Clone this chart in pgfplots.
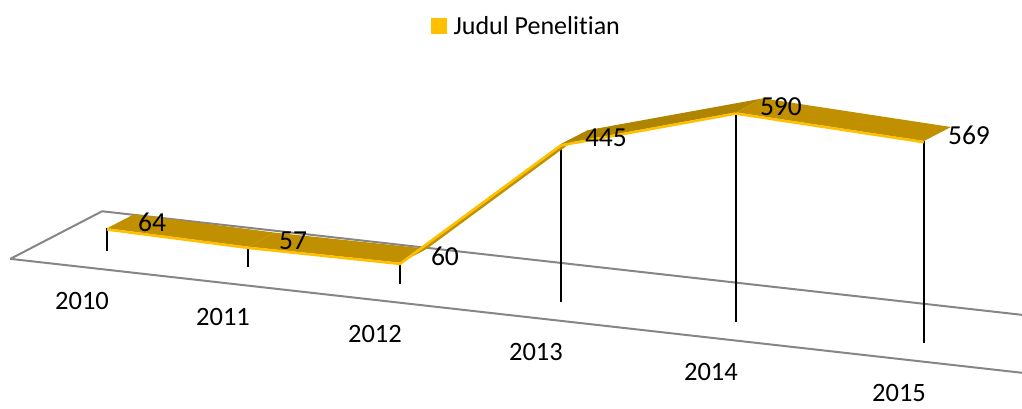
\documentclass[border=0pt]{standalone}
\usepackage{pgfplots}
\pgfplotsset{compat=1.18}
\usepackage{fontspec}
\setmainfont{Carlito}[Ligatures=NoCommon]
\definecolor{gold}{HTML}{C09000}
\definecolor{golddark}{HTML}{AF8400}
\definecolor{yel}{HTML}{FFC000}
\definecolor{floorgray}{HTML}{868686}
\begin{document}
\begin{tikzpicture}
\useasboundingbox (0,0) rectangle (1022pt,408pt);
\begin{axis}[
  x={(163.4pt,-18.4pt)}, y={(27pt,14pt)}, z={(0pt,0.355pt)},
  disabledatascaling,
  anchor=origin, at={(107pt,157pt)},
  hide axis, clip=false,
  xmin=-0.41, xmax=5.8, ymin=-1.1, ymax=2.3, zmin=0, zmax=600,
  font=\fontsize{26.5}{31}\selectfont,
  legend style={draw=none, fill=none, inner sep=0pt,
    at={(axis cs:1.983,0,736.6)}, anchor=west,
    font=\fontsize{26}{31}\selectfont,
    nodes={inner sep=2pt},
    /tikz/every odd column/.append style={column sep=5pt}},
  legend image code/.code={\fill[yel] (0pt,-7.5pt) rectangle (15pt,7.5pt);},
]
% floor
\addplot3[floorgray, line width=2pt, line join=round, forget plot]
  coordinates {(-0.41,-1.1,0) (5.8,-1.1,0) (5.8,2.3,0) (-0.41,2.3,0) (-0.41,-1.1,0)};
% drop lines
\addplot3[black, line width=1.7pt, forget plot] coordinates {(0,0,0) (0,0,64)};
\addplot3[black, line width=1.7pt, forget plot] coordinates {(0.863,0,0) (0.863,0,57)};
\addplot3[black, line width=1.7pt, forget plot] coordinates {(1.793,0,0) (1.793,0,60)};
\addplot3[black, line width=1.7pt, forget plot] coordinates {(2.778,0,0) (2.778,0,445)};
\addplot3[black, line width=1.7pt, forget plot] coordinates {(3.849,0,0) (3.849,0,590)};
\addplot3[black, line width=1.7pt, forget plot] coordinates {(5,0,0) (5,0,569)};
% ribbon top
\addplot3[fill=gold, draw=none, forget plot] coordinates {(0,0,64) (0.863,0,57) (0.863,1,57) (0,1,64)};
\addplot3[fill=gold, draw=none, forget plot] coordinates {(0.863,0,57) (1.793,0,60) (1.793,1,60) (0.863,1,57)};
\addplot3[fill=gold, draw=none, forget plot] coordinates {(1.793,0,60) (2.778,0,445) (2.778,1,445) (1.793,1,60)};
\addplot3[fill=golddark, draw=none, forget plot] coordinates {(2.778,0,445) (3.849,0,590) (3.849,1,590) (2.778,1,445)};
\addplot3[fill=gold, draw=none, forget plot] coordinates {(3.849,0,590) (5,0,569) (5,1,569) (3.849,1,590)};
% ribbon front edge
\addplot3[yel, line width=2.6pt, yshift=-1.2pt, line join=round, forget plot]
  coordinates {(0,0,64) (0.863,0,57) (1.793,0,60) (2.778,0,445) (3.849,0,590) (5,0,569)};
% data labels
\addplot3[draw=none, mark=none, forget plot, nodes near coords, point meta=explicit symbolic,
  every node near coord/.style={anchor=center, xshift=45pt, yshift=6pt, text=black,
    font=\fontsize{27.5}{32}\selectfont}]
  coordinates {(0,0,64) [64] (0.863,0,57) [57] (1.793,0,60) [60] (2.778,0,445) [445] (3.849,0,590) [590] (5,0,569) [569]};
% category labels
\addplot3[draw=none, mark=none, forget plot, nodes near coords, point meta=explicit symbolic,
  every node near coord/.style={anchor=center, xshift=2pt, yshift=-36pt, text=black}]
  coordinates {(0,-1,0) [2010] (0.863,-1,0) [2011] (1.793,-1,0) [2012] (2.778,-1,0) [2013] (3.849,-1,0) [2014] (5,-1,0) [2015]};
\addlegendimage{yel}
\addlegendentry{Judul Penelitian}
\end{axis}
\end{tikzpicture}
\end{document}
